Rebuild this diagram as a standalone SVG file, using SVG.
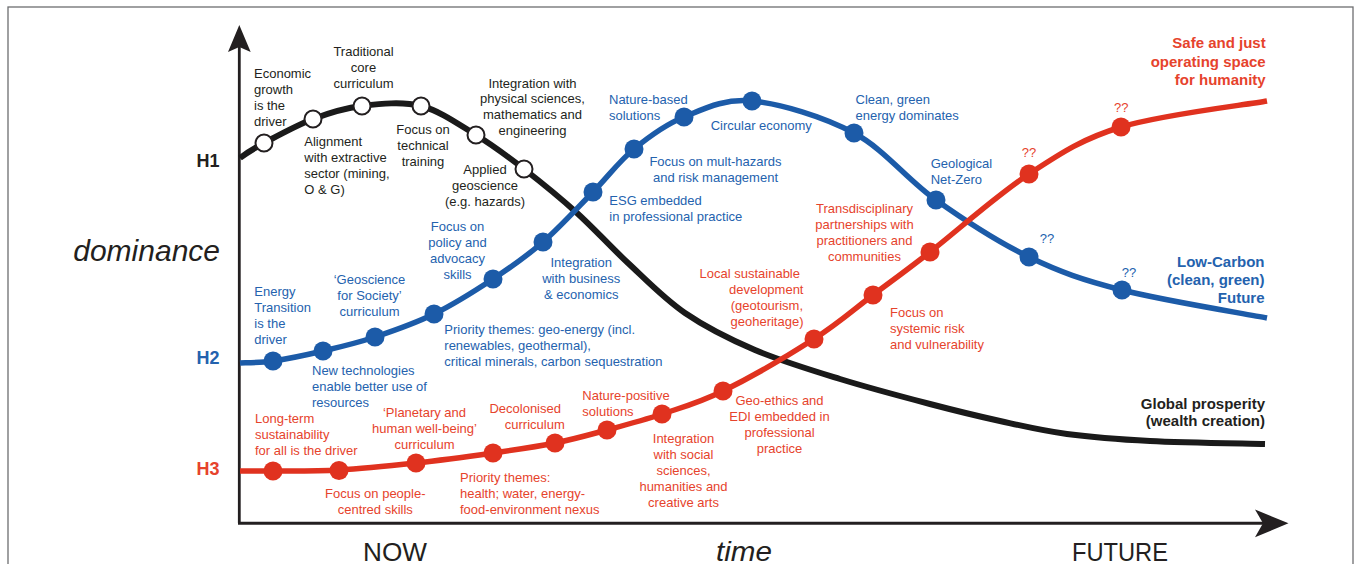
<svg xmlns="http://www.w3.org/2000/svg" width="1356" height="564" viewBox="0 0 1356 564">
<style>
text{font-family:"Liberation Sans",Arial,sans-serif;font-size:13px}
.k{fill:#231f20}
.b{fill:#2462ae}
.r{fill:#e6432c}
.m{text-anchor:middle}
.e{text-anchor:end}
.bold{font-weight:bold;font-size:15px}
.h{font-weight:bold;font-size:18px;text-anchor:end}
.ax{font-size:25px;fill:#231f20}
.dk{fill:#fff;stroke:#231f20;stroke-width:2}
.db{fill:#1c5ba8}
.dr{fill:#e0321f}
.curve{fill:none;stroke-linecap:butt;stroke-linejoin:round}
</style>
<rect x="8" y="7" width="1345" height="620" fill="#fff" stroke="#6d6e70" stroke-width="1.3"/>

<g id="axes">
<line x1="239.3" y1="46" x2="239.3" y2="523" stroke="#231f20" stroke-width="2.8"/>
<polygon points="239.3,25 250.7,52 239.3,47 228,52" fill="#231f20"/>
<line x1="238" y1="523.3" x2="1266" y2="523.3" stroke="#231f20" stroke-width="3"/>
<polygon points="1288.5,523.3 1255,509.5 1263,523.3 1255,537.3" fill="#231f20"/>
<text x="220" y="261" class="k e" style="font-size:30px;font-style:italic">dominance</text>
<text x="363" y="560.5" class="ax" textLength="64" lengthAdjust="spacingAndGlyphs">NOW</text>
<text x="716" y="560.5" class="ax" style="font-style:italic;font-size:27px" textLength="56" lengthAdjust="spacingAndGlyphs">time</text>
<text x="1072" y="561" class="ax" textLength="96" lengthAdjust="spacingAndGlyphs">FUTURE</text>
</g>

<g id="connectors">
<path class="curve" stroke="#1a1a1a" stroke-width="6" d="M240,158 C243.2,155.5 251.7,149.5 264,143 C276.3,136.5 296.7,125.2 313,119 C329.3,112.8 344,108.2 362,106 C380,103.8 402,101.2 421,106 C440,110.8 458.8,124.5 476,135 C493.2,145.5 507.2,156 524,169 C540.8,182 559.7,197.3 577,213 C594.3,228.7 610,246.3 628,263 C646,279.7 663.8,298.5 685,313 C706.2,327.5 729.2,339 755,350 C780.8,361 810.8,370 840,379 C869.2,388 903.3,397 930,404 C956.7,411 977.2,416 1000,421 C1022.8,426 1042,430.7 1067,434 C1092,437.3 1117,439.3 1150,441 C1183,442.7 1245.8,443.5 1265,444"/>
<path class="curve" stroke="#1c5ba8" stroke-width="5.5" d="M240,363 C244.7,362.7 259,363 273,361 C287,359 306,355 323,351 C340,347 356.5,343.2 375,337 C393.5,330.8 414.3,323.7 434,314 C453.7,304.3 474.8,291 493,279 C511.2,267 526.3,256.5 543,242 C559.7,227.5 577.8,207.5 593,192 C608.2,176.5 618.8,161.5 634,149 C649.2,136.5 664.3,125 684,117 C703.7,109 723.7,98.3 752,101 C780.3,103.7 823.3,116.5 854,133 C884.7,149.5 906.8,179.3 936,200 C965.2,220.7 998,242 1029,257 C1060,272 1082.3,279.8 1122,290 C1161.7,300.2 1242.8,313.3 1267,318"/>
<path class="curve" stroke="#e0321f" stroke-width="5.5" d="M240,471 C244.7,471 256.3,471.2 273,471 C289.7,470.8 315.2,471.3 339,470 C362.8,468.7 390.3,465.8 416,463 C441.7,460.2 469.8,456.3 493,453 C516.2,449.7 536,446.8 555,443 C574,439.2 589.2,434.8 607,430 C624.8,425.2 642.7,420.5 662,414 C681.3,407.5 697.7,403.5 723,391 C748.3,378.5 789,355 814,339 C839,323 853.7,309.5 873,295 C892.3,280.5 904,272.2 930,252 C956,231.8 997.2,194.8 1029,174 C1060.8,153.2 1081.3,139.2 1121,127 C1160.7,114.8 1242.7,105.3 1267,101"/>
</g>

<g id="series-labels">
<text x="219.5" y="166.7" class="h k">H1</text>
<text x="219.5" y="364" class="h b">H2</text>
<text x="219.5" y="475" class="h r">H3</text>
<text class="k e bold"><tspan x="1265" y="408.5">Global prosperity</tspan><tspan x="1265" y="426">(wealth creation)</tspan></text>
<text class="b e bold"><tspan x="1264.5" y="266.8">Low-Carbon</tspan><tspan x="1264.5" y="284.8">(clean, green)</tspan><tspan x="1264.5" y="302.8">Future</tspan></text>
<text class="r e bold"><tspan x="1265.7" y="48">Safe and just</tspan><tspan x="1265.7" y="66.5">operating space</tspan><tspan x="1265.7" y="85">for humanity</tspan></text>
</g>

<!-- H1 nodes -->
<g id="h1-n1"><circle cx="264" cy="143" r="8.5" class="dk"/><text class="k"><tspan x="254" y="77.5">Economic</tspan><tspan x="254" y="93.5">growth</tspan><tspan x="254" y="109.5">is the</tspan><tspan x="254" y="125.5">driver</tspan></text></g>
<g id="h1-n2"><circle cx="313" cy="119" r="8.5" class="dk"/><text class="k"><tspan x="304.3" y="146">Alignment</tspan><tspan x="304.3" y="162">with extractive</tspan><tspan x="304.3" y="178">sector (mining,</tspan><tspan x="304.3" y="194">O &amp; G)</tspan></text></g>
<g id="h1-n3"><circle cx="362" cy="106" r="8.5" class="dk"/><text class="k m"><tspan x="363.5" y="56">Traditional</tspan><tspan x="363.5" y="72">core</tspan><tspan x="363.5" y="88">curriculum</tspan></text></g>
<g id="h1-n4"><circle cx="421" cy="106" r="8.5" class="dk"/><text class="k m"><tspan x="423" y="134.3">Focus on</tspan><tspan x="423" y="150.3">technical</tspan><tspan x="423" y="166.3">training</tspan></text></g>
<g id="h1-n5"><circle cx="476" cy="135" r="8.5" class="dk"/><text class="k m"><tspan x="532.5" y="87.5">Integration with</tspan><tspan x="532.5" y="103.3">physical sciences,</tspan><tspan x="532.5" y="119.1">mathematics and</tspan><tspan x="532.5" y="134.9">engineering</tspan></text></g>
<g id="h1-n6"><circle cx="524" cy="169" r="8.5" class="dk"/><text class="k m"><tspan x="485" y="174.3">Applied</tspan><tspan x="485" y="190.3">geoscience</tspan><tspan x="485" y="206.3">(e.g. hazards)</tspan></text></g>

<!-- H2 nodes -->
<g id="h2-n1"><circle cx="273" cy="361" r="9.5" class="db"/><text class="b"><tspan x="254.3" y="296">Energy</tspan><tspan x="254.3" y="312">Transition</tspan><tspan x="254.3" y="328">is the</tspan><tspan x="254.3" y="344">driver</tspan></text></g>
<g id="h2-n2"><circle cx="323" cy="351" r="9.5" class="db"/><text class="b"><tspan x="312" y="375">New technologies</tspan><tspan x="312" y="391">enable better use of</tspan><tspan x="312" y="407">resources</tspan></text></g>
<g id="h2-n3"><circle cx="375" cy="337" r="9.5" class="db"/><text class="b m"><tspan x="369.5" y="284.3">‘Geoscience</tspan><tspan x="369.5" y="300.3">for Society’</tspan><tspan x="369.5" y="316.3">curriculum</tspan></text></g>
<g id="h2-n4"><circle cx="434" cy="314" r="9.5" class="db"/><text class="b"><tspan x="444.3" y="333.6">Priority themes: geo-energy (incl.</tspan><tspan x="444.3" y="349.6">renewables, geothermal),</tspan><tspan x="444.3" y="365.6">critical minerals, carbon sequestration</tspan></text></g>
<g id="h2-n5"><circle cx="493" cy="279" r="9.5" class="db"/><text class="b m"><tspan x="457.5" y="231">Focus on</tspan><tspan x="457.5" y="247">policy and</tspan><tspan x="457.5" y="263">advocacy</tspan><tspan x="457.5" y="279">skills</tspan></text></g>
<g id="h2-n6"><circle cx="543" cy="242" r="9.5" class="db"/><text class="b m"><tspan x="581.2" y="267">Integration</tspan><tspan x="581.2" y="283">with business</tspan><tspan x="581.2" y="299">&amp; economics</tspan></text></g>
<g id="h2-n7"><circle cx="593" cy="192" r="9.5" class="db"/><text class="b"><tspan x="609.3" y="205.3">ESG embedded</tspan><tspan x="609.3" y="221.3">in professional practice</tspan></text></g>
<g id="h2-n8"><circle cx="634" cy="149" r="9.5" class="db"/><text class="b m"><tspan x="715.5" y="166">Focus on mult-hazards</tspan><tspan x="715.5" y="182">and risk management</tspan></text></g>
<g id="h2-n9"><circle cx="684" cy="117" r="9.5" class="db"/><text class="b"><tspan x="609" y="103.6">Nature-based</tspan><tspan x="609" y="119.6">solutions</tspan></text></g>
<g id="h2-n10"><circle cx="752" cy="101" r="9.5" class="db"/><text x="710.7" y="130.3" class="b">Circular economy</text></g>
<g id="h2-n11"><circle cx="854" cy="133" r="9.5" class="db"/><text class="b"><tspan x="855.5" y="103.6">Clean, green</tspan><tspan x="855.5" y="119.6">energy dominates</tspan></text></g>
<g id="h2-n12"><circle cx="936" cy="200" r="9.5" class="db"/><text class="b"><tspan x="930.7" y="167.6">Geological</tspan><tspan x="930.7" y="183.6">Net-Zero</tspan></text></g>
<g id="h2-n13"><circle cx="1029" cy="257" r="9.5" class="db"/><text x="1047" y="243" class="b m">??</text></g>
<g id="h2-n14"><circle cx="1122" cy="290" r="9.5" class="db"/><text x="1129" y="277" class="b m">??</text></g>

<!-- H3 nodes -->
<g id="h3-n1"><circle cx="273" cy="471" r="9.5" class="dr"/><text class="r"><tspan x="255" y="422.6">Long-term</tspan><tspan x="255" y="438.6">sustainability</tspan><tspan x="255" y="454.6">for all is the driver</tspan></text></g>
<g id="h3-n2"><circle cx="339" cy="470.5" r="9.5" class="dr"/><text class="r m"><tspan x="375.3" y="498.3">Focus on people-</tspan><tspan x="375.3" y="514.3">centred skills</tspan></text></g>
<g id="h3-n3"><circle cx="416" cy="463" r="9.5" class="dr"/><text class="r m"><tspan x="424.5" y="417">‘Planetary and</tspan><tspan x="424.5" y="433">human well-being’</tspan><tspan x="424.5" y="449">curriculum</tspan></text></g>
<g id="h3-n4"><circle cx="493" cy="453" r="9.5" class="dr"/><text class="r"><tspan x="460" y="481.6">Priority themes:</tspan><tspan x="460" y="497.6">health; water, energy-</tspan><tspan x="460" y="513.6">food-environment nexus</tspan></text></g>
<g id="h3-n5"><circle cx="555" cy="443" r="9.5" class="dr"/><text class="r m"><tspan x="525.2" y="412.6">Decolonised</tspan><tspan x="534.8" y="428.6">curriculum</tspan></text></g>
<g id="h3-n6"><circle cx="607" cy="430" r="9.5" class="dr"/><text class="r"><tspan x="582.3" y="400">Nature-positive</tspan><tspan x="582.3" y="416">solutions</tspan></text></g>
<g id="h3-n7"><circle cx="662" cy="414" r="9.5" class="dr"/><text class="r m"><tspan x="683.5" y="442.5">Integration</tspan><tspan x="683.5" y="458.5">with social</tspan><tspan x="683.5" y="474.5">sciences,</tspan><tspan x="683.5" y="490.5">humanities and</tspan><tspan x="683.5" y="506.5">creative arts</tspan></text></g>
<g id="h3-n8"><circle cx="723" cy="391" r="9.5" class="dr"/><text class="r m"><tspan x="779.5" y="405">Geo-ethics and</tspan><tspan x="779.5" y="421">EDI embedded in</tspan><tspan x="779.5" y="437">professional</tspan><tspan x="779.5" y="453">practice</tspan></text></g>
<g id="h3-n9"><circle cx="814" cy="339" r="9.5" class="dr"/><text class="r e"><tspan x="800" y="277.6">Local sustainable</tspan><tspan x="803.5" y="293.6">development</tspan><tspan x="803" y="309.6">(geotourism,</tspan><tspan x="803.5" y="325.6">geoheritage)</tspan></text></g>
<g id="h3-n10"><circle cx="873" cy="295" r="9.5" class="dr"/><text class="r"><tspan x="890" y="316.6">Focus on</tspan><tspan x="890" y="332.6">systemic risk</tspan><tspan x="890" y="348.6">and vulnerability</tspan></text></g>
<g id="h3-n11"><circle cx="930" cy="252" r="9.5" class="dr"/><text class="r m"><tspan x="864.5" y="213.3">Transdisciplinary</tspan><tspan x="864.5" y="229.3">partnerships with</tspan><tspan x="864.5" y="245.3">practitioners and</tspan><tspan x="864.5" y="261.3">communities</tspan></text></g>
<g id="h3-n12"><circle cx="1029" cy="174" r="9.5" class="dr"/><text x="1029" y="157.3" class="r m">??</text></g>
<g id="h3-n13"><circle cx="1121" cy="127" r="9.5" class="dr"/><text x="1121.3" y="111.7" class="r m">??</text></g>
</svg>
